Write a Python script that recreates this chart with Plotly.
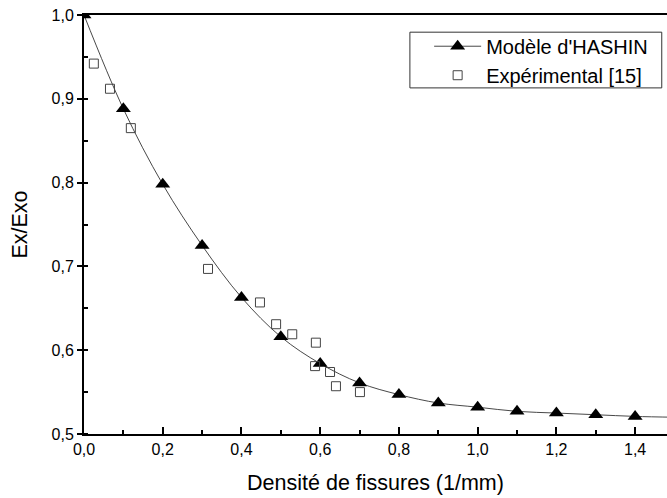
import plotly.graph_objects as go

# Model (HASHIN) data
model_x = [0.0, 0.1, 0.2, 0.3, 0.4, 0.5, 0.6, 0.7, 0.8, 0.9, 1.0, 1.1, 1.2, 1.3, 1.4, 1.5]
model_y = [1.0, 0.888, 0.798, 0.725, 0.663, 0.616, 0.584, 0.561, 0.547, 0.537, 0.532, 0.527, 0.525, 0.523, 0.521, 0.520]

# Experimental data [15]
exp_x = [0.025, 0.066, 0.119, 0.315, 0.447, 0.488, 0.529, 0.589, 0.587, 0.625, 0.640, 0.701]
exp_y = [0.942, 0.912, 0.865, 0.697, 0.657, 0.631, 0.619, 0.609, 0.581, 0.574, 0.557, 0.550]

x_ticks = [0.0, 0.2, 0.4, 0.6, 0.8, 1.0, 1.2, 1.4]
y_ticks = [0.5, 0.6, 0.7, 0.8, 0.9, 1.0]

font_family = "Liberation Sans"

fig = go.Figure()
fig.add_trace(go.Scatter(
    x=model_x, y=model_y, mode="lines+markers",
    name="Modèle d'HASHIN",
    line=dict(color="#333333", width=0.9, shape="spline"),
    marker=dict(symbol="triangle-up", size=13, color="black"),
))
fig.add_trace(go.Scatter(
    x=exp_x, y=exp_y, mode="markers",
    name="Expérimental [15]",
    marker=dict(symbol="square-open", size=9, color="#444444", line=dict(width=1)),
))

# legend frame
fig.add_shape(type="rect", xref="paper", yref="paper",
              x0=0.559, x1=0.991, y0=0.826, y1=0.959,
              line=dict(color="#333333", width=1), fillcolor="white", layer="above")

fig.update_layout(
    width=667, height=498,
    margin=dict(l=84, r=0, t=15, b=64),
    paper_bgcolor="white", plot_bgcolor="white",
    separators=", ",
    font=dict(family=font_family, size=16, color="black"),
    showlegend=True,
    legend=dict(
        x=0.592, y=0.972, xanchor="left", yanchor="top",
        borderwidth=0, bgcolor="rgba(0,0,0,0)",
        font=dict(size=20), itemwidth=47, tracegroupgap=0,
    ),
    xaxis=dict(
        range=[0, 1.481], tickvals=x_ticks, tickformat=".1f",
        automargin=False,
        showgrid=False, zeroline=False,
        showline=True, linecolor="black", linewidth=2, mirror=True,
        ticks="inside", ticklen=7, tickwidth=1.5, tickcolor="black",
        ticklabelstandoff=0,
        minor=dict(dtick=0.1, ticks="inside", ticklen=4, tickwidth=1.5, tickcolor="black", showgrid=False),
        title=dict(text="Densité de fissures (1/mm)", font=dict(size=21.5), standoff=18),
        tickfont=dict(size=16),
    ),
    yaxis=dict(
        range=[0.5, 1.0], tickvals=y_ticks, tickformat=".1f",
        automargin=False,
        showgrid=False, zeroline=False,
        showline=True, linecolor="black", linewidth=2,
        ticks="outside", ticklen=5, tickwidth=1.5, tickcolor="black",
        minor=dict(dtick=0.05, ticks="inside", ticklen=4, tickwidth=1.5, tickcolor="black", showgrid=False),
        title=dict(text="Ex/Exo", font=dict(size=21.5), standoff=18),
        tickfont=dict(size=16),
    ),
)

fig.write_html("out.html", config={"displayModeBar": False},
               post_script="document.body.style.margin='0';")
